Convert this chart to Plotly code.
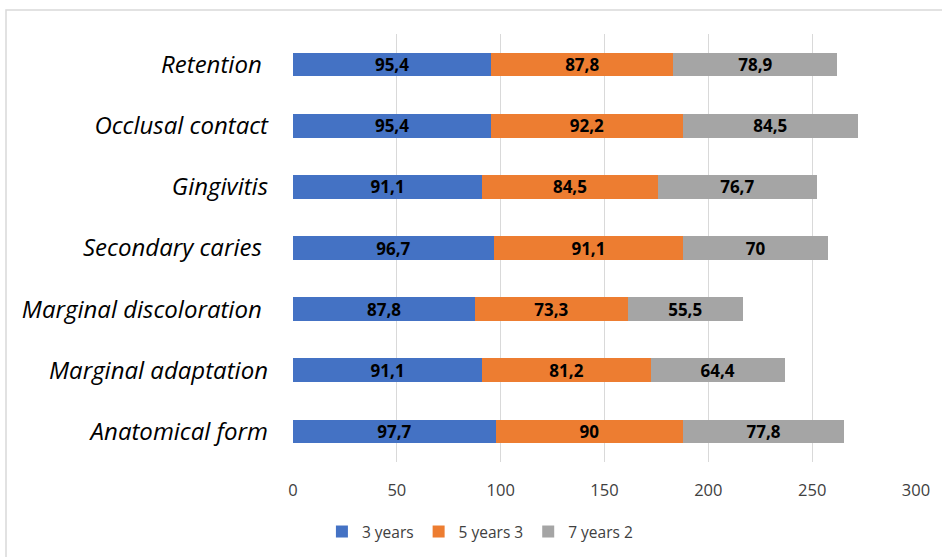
import plotly.graph_objects as go

# Categories listed bottom-to-top (Plotly puts the first category at the bottom)
categories = [
    "Anatomical form",
    "Marginal adaptation",
    "Marginal discoloration\u00a0",
    "Secondary caries\u00a0",
    "Gingivitis",
    "Occlusal contact",
    "Retention\u00a0",
]
years3 = [97.7, 91.1, 87.8, 96.7, 91.1, 95.4, 95.4]
years5 = [90, 81.2, 73.3, 91.1, 84.5, 92.2, 87.8]
years7 = [77.8, 64.4, 55.5, 70, 76.7, 84.5, 78.9]

series = [
    ("3 years", years3, "#4472C4"),
    ("5 years 3", years5, "#ED7D31"),
    ("7 years 2", years7, "#A5A5A5"),
]

x_ticks = [0, 50, 100, 150, 200, 250, 300]

W, H = 942, 557
L, R, T, B = 293, 26, 34, 95


def fmt(v):
    return f"{v:g}".replace(".", ",")


fig = go.Figure()
for name, vals, color in series:
    fig.add_trace(go.Bar(
        y=categories,
        x=vals,
        name=name,
        orientation="h",
        marker=dict(color=color, line=dict(width=0)),
        text=[fmt(v) for v in vals],
        textposition="inside",
        insidetextanchor="middle",
        textangle=0,
        constraintext="none",
        textfont=dict(family="Open Sans", size=17, color="#000000", weight="bold"),
        hoverinfo="skip",
    ))

pw = W - L - R
ph = H - T - B
# light frame around the chart area
fig.add_shape(
    type="rect", xref="paper", yref="paper",
    x0=(6 - L) / pw, x1=(W + 5 - L) / pw,
    y0=(H - B - (H + 5)) / ph, y1=(H - B - 10) / ph,
    line=dict(color="#d9d9d9", width=1.5), fillcolor="rgba(0,0,0,0)",
    layer="below",
)

fig.update_layout(
    width=W, height=H,
    margin=dict(l=L, r=R, t=T, b=B),
    paper_bgcolor="white", plot_bgcolor="white",
    barmode="stack",
    bargap=0.61,
    font=dict(family="Open Sans", color="#595959"),
    xaxis=dict(
        range=[0, 300], tickvals=x_ticks,
        showgrid=True, gridcolor="#d9d9d9", gridwidth=1,
        zeroline=False, showline=False, ticks="",
        tickfont=dict(size=16.5, color="#404040"),
        ticklabelstandoff=16,
        fixedrange=True,
    ),
    yaxis=dict(
        categoryorder="array", categoryarray=categories,
        showgrid=False, zeroline=False, showline=False, ticks="",
        tickfont=dict(size=24, color="#000000", style="italic"),
        ticklabelstandoff=24,
        fixedrange=True,
    ),
    legend=dict(
        orientation="h", xref="container", yref="container",
        x=0.51, xanchor="center", y=0.045, yanchor="middle",
        font=dict(size=15.5, color="#404040"),
        itemwidth=30, traceorder="normal",
    ),
)

fig.write_html("out.html")
